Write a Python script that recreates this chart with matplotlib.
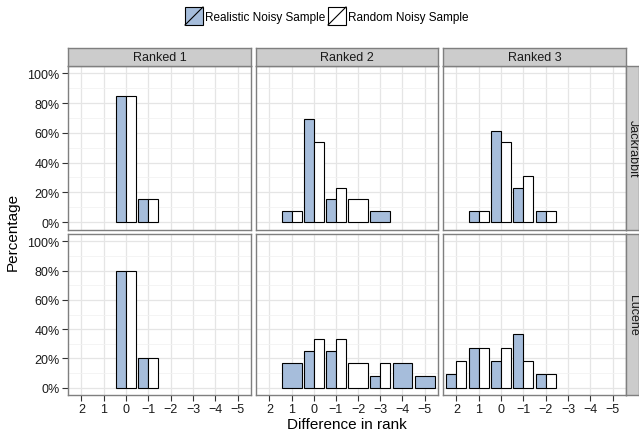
import numpy as np
import matplotlib
matplotlib.use("Agg")
import matplotlib.pyplot as plt
from matplotlib.patches import Rectangle
from matplotlib.lines import Line2D

plt.rcParams["font.family"] = ["Liberation Sans", "DejaVu Sans"]

nan = np.nan
# x categories (difference in rank)
categories = ["2", "1", "0", "\u22121", "\u22122", "\u22123", "\u22124", "\u22125"]
col_titles = ["Ranked 1", "Ranked 2", "Ranked 3"]
row_titles = ["Jackrabbit", "Lucene"]
series_names = ["Realistic Noisy Sample", "Random Noisy Sample"]

# percentages, NaN = no bar
jack_r1_real = [nan, nan, 84.6, 15.4, nan, nan, nan, nan]
jack_r1_rand = [nan, nan, 84.6, 15.4, nan, nan, nan, nan]
jack_r2_real = [nan, 7.7, 69.2, 15.4, nan, 7.7, nan, nan]
jack_r2_rand = [nan, 7.7, 53.8, 23.1, 15.4, nan, nan, nan]
jack_r3_real = [nan, 7.7, 61.5, 23.1, 7.7, nan, nan, nan]
jack_r3_rand = [nan, 7.7, 53.8, 30.8, 7.7, nan, nan, nan]
luc_r1_real = [nan, nan, 80.0, 20.0, nan, nan, nan, nan]
luc_r1_rand = [nan, nan, 80.0, 20.0, nan, nan, nan, nan]
luc_r2_real = [nan, 16.7, 25.0, 25.0, nan, 8.3, 16.7, 8.3]
luc_r2_rand = [nan, nan, 33.3, 33.3, 16.7, 16.7, nan, nan]
luc_r3_real = [9.1, 27.3, 18.2, 36.4, 9.1, nan, nan, nan]
luc_r3_rand = [18.2, 27.3, 27.3, 18.2, 9.1, nan, nan, nan]

panels = [
    [(jack_r1_real, jack_r1_rand), (jack_r2_real, jack_r2_rand), (jack_r3_real, jack_r3_rand)],
    [(luc_r1_real, luc_r1_rand), (luc_r2_real, luc_r2_rand), (luc_r3_real, luc_r3_rand)],
]

W, H = 639, 435
fig = plt.figure(figsize=(W / 100, H / 100), dpi=100)

blue = "#a6bddb"
border = "#7f7f7f"
strip_fill = "#cccccc"

col_x = [(68, 251), (256, 438), (443, 626)]
row_y = [(67, 230.5), (235, 396)]
strip_top = 48.5


def px(x0, y0, x1, y1):
    # pixel box (top-left origin) -> figure fraction rect
    return [x0 / W, 1 - y1 / H, (x1 - x0) / W, (y1 - y0) / H]


xpos = np.arange(1, len(categories) + 1)
for r in range(2):
    for c in range(3):
        x0, x1 = col_x[c]
        y0, y1 = row_y[r]
        ax = fig.add_axes(px(x0, y0, x1, y1))
        real, rand = panels[r][c]
        for i, xv in enumerate(xpos):
            a, b = real[i], rand[i]
            if not np.isnan(a) and not np.isnan(b):
                ax.bar(xv - 0.225, a, width=0.45, color=blue, edgecolor="black", linewidth=0.8, zorder=3)
                ax.bar(xv + 0.225, b, width=0.45, color="white", edgecolor="black", linewidth=0.8, zorder=3)
            elif not np.isnan(a):
                ax.bar(xv, a, width=0.9, color=blue, edgecolor="black", linewidth=0.8, zorder=3)
            elif not np.isnan(b):
                ax.bar(xv, b, width=0.9, color="white", edgecolor="black", linewidth=0.8, zorder=3)
        ax.set_xlim(0.4, 8.6)
        ax.set_ylim(-5, 105)
        ax.set_xticks(xpos)
        ax.set_yticks([0, 20, 40, 60, 80, 100])
        ax.set_yticks([10, 30, 50, 70, 90], minor=True)
        ax.grid(which="major", color="#e5e5e5", linewidth=0.9, zorder=0)
        ax.grid(which="minor", axis="y", color="#f2f2f2", linewidth=0.6, zorder=0)
        ax.set_axisbelow(True)
        for s in ax.spines.values():
            s.set_color(border)
            s.set_linewidth(1.0)
        ax.tick_params(which="minor", length=0)
        ax.tick_params(which="major", length=4, width=0.8, color="#333333",
                       labelsize=9, labelcolor="#1a1a1a", pad=2)
        if c == 0:
            ax.set_yticklabels(["%d%%" % v for v in [0, 20, 40, 60, 80, 100]])
        else:
            ax.tick_params(axis="y", length=0, labelleft=False)
        if r == 1:
            ax.set_xticklabels(categories)
        else:
            ax.tick_params(axis="x", length=0, labelbottom=False)

        if r == 0:
            sax = fig.add_axes(px(x0, strip_top, x1, y0))
            sax.set_facecolor(strip_fill)
            sax.set_xticks([]); sax.set_yticks([])
            for s in sax.spines.values():
                s.set_color(border); s.set_linewidth(1.0)
            sax.text(0.5, 0.5, col_titles[c], ha="center", va="center", fontsize=9, color="#1a1a1a",
                     transform=sax.transAxes)
        if c == 2:
            rax = fig.add_axes(px(626, y0, 639, y1))
            rax.set_facecolor(strip_fill)
            rax.set_xticks([]); rax.set_yticks([])
            for s in rax.spines.values():
                s.set_color(border); s.set_linewidth(1.0)
            rax.text(0.55, 0.5, row_titles[r], ha="center", va="center", fontsize=9, color="#1a1a1a",
                     rotation=-90, transform=rax.transAxes)

fig.text(347 / W, 1 - 425 / H, "Difference in rank", ha="center", va="center", fontsize=11)
fig.text(13 / W, 1 - 232 / H, "Percentage", ha="center", va="center", fontsize=11, rotation=90)

# legend at top
lax = fig.add_axes([0, 0, 1, 1])
lax.set_xlim(0, W); lax.set_ylim(H, 0)
lax.axis("off")
keys = [(185, blue, series_names[0]), (328, "white", series_names[1])]
for kx, fc, name in keys:
    lax.add_patch(Rectangle((kx, 8), 18, 18, facecolor=fc, edgecolor="black", linewidth=0.8))
    lax.add_line(Line2D([kx, kx + 18], [26, 8], color="black", linewidth=0.8))
    lax.text(kx + 20, 17.5, name, ha="left", va="center", fontsize=8.5)

fig.savefig("out.png", dpi=100)
